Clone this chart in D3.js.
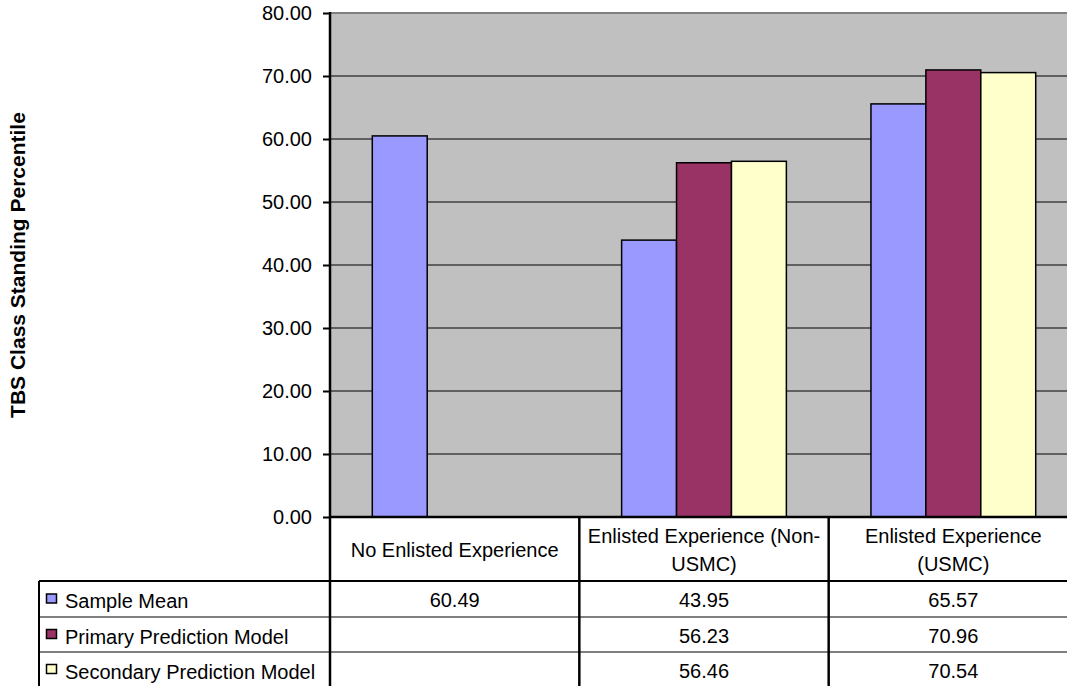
<!DOCTYPE html>
<html><head><meta charset="utf-8">
<script src="https://cdn.jsdelivr.net/npm/d3@7"></script>
<style>body{margin:0;background:#fff}svg{display:block;font-family:Arial,"Liberation Sans",sans-serif}</style>
</head><body>
<svg id="c" width="1067" height="686"></svg>
<script>
const categories = [["No Enlisted Experience"], ["Enlisted Experience (Non-", "USMC)"], ["Enlisted Experience", "(USMC)"]];
const seriesNames = ["Sample Mean", "Primary Prediction Model", "Secondary Prediction Model"];
const sampleMean = [60.49, 43.95, 65.57];
const primaryModel = [null, 56.23, 70.96];
const secondaryModel = [null, 56.46, 70.54];
const seriesColors = ["#9999FF", "#993366", "#FFFFCC"];
const yTicks = [0, 10, 20, 30, 40, 50, 60, 70, 80];
const yTitle = "TBS Class Standing Percentile";

const series = [sampleMean, primaryModel, secondaryModel];
const svg = d3.select("#c");
const L = 330, R = 1078, T = 13, B = 517;
const FS = 20;
const catIdx = categories.map((d, i) => i);
const x = d3.scaleBand().domain(catIdx).range([L, R]);
const xs = d3.scaleBand().domain(seriesNames).range([0, x.bandwidth()]).paddingInner(0).paddingOuter(0.77);
const y = d3.scaleLinear().domain([0, 80]).range([B, T]);

// plot background
svg.append("rect").attr("x", L).attr("y", T).attr("width", R - L).attr("height", B - T).attr("fill", "#C0C0C0");
// gridlines
svg.append("g").selectAll("line").data(yTicks.filter(t => t > 0 && t < 80)).join("line")
  .attr("x1", L).attr("x2", R).attr("y1", d => y(d)).attr("y2", d => y(d))
  .attr("stroke", "#000").attr("stroke-width", 1);
svg.append("line").attr("x1", L).attr("x2", R).attr("y1", T).attr("y2", T).attr("stroke", "#808080").attr("stroke-width", 2);

// bars
series.forEach((vals, si) => {
  svg.append("g").selectAll("rect").data(vals.map((v, i) => ({v, i})).filter(d => d.v != null)).join("rect")
    .attr("x", d => x(d.i) + xs(seriesNames[si]))
    .attr("width", xs.bandwidth())
    .attr("y", d => y(d.v))
    .attr("height", d => y(0) - y(d.v))
    .attr("fill", seriesColors[si]).attr("stroke", "#000").attr("stroke-width", 1.5);
});

// y axis
const yAxis = d3.axisLeft(y).tickValues(yTicks).tickFormat(d3.format(".2f")).tickSize(7).tickPadding(11);
const ga = svg.append("g").attr("transform", `translate(${L},0)`).call(yAxis);
ga.select(".domain").remove();
ga.selectAll("line").attr("stroke", "#000").attr("stroke-width", 2);
ga.selectAll("text").attr("font-size", 20).attr("fill", "#000").attr("dy", "0.34em").attr("font-family", "Arial, 'Liberation Sans', sans-serif");
svg.append("line").attr("x1", L).attr("x2", L).attr("y1", T - 1).attr("y2", 686).attr("stroke", "#000").attr("stroke-width", 2.5);

// y title
svg.append("text").attr("transform", `translate(25,${(T + B) / 2 + 0}) rotate(-90)`)
  .attr("text-anchor", "middle").attr("font-size", 21).attr("font-weight", "bold").text(yTitle);

// data table
const rowsY = [517, 581, 617, 652, 687];
const LG = 39;
// header
svg.append("line").attr("x1", L).attr("x2", R).attr("y1", B).attr("y2", B).attr("stroke", "#000").attr("stroke-width", 2.5);
categories.forEach((lines, i) => {
  const cx = x(i) + x.bandwidth() / 2;
  const t = svg.append("text").attr("text-anchor", "middle").attr("font-size", FS).attr("fill", "#000");
  const baseY = 557;
  lines.forEach((ln, k) => {
    t.append("tspan").attr("x", cx).attr("y", baseY + (k - (lines.length - 1) / 2) * 28).text(ln);
  });
});
// column dividers
catIdx.slice(1).forEach(i => {
  svg.append("line").attr("x1", x(i)).attr("x2", x(i)).attr("y1", B).attr("y2", 686).attr("stroke", "#000").attr("stroke-width", 2.5);
});
// rows
svg.append("line").attr("x1", LG).attr("x2", R).attr("y1", rowsY[1]).attr("y2", rowsY[1]).attr("stroke", "#000").attr("stroke-width", 2);
svg.append("line").attr("x1", LG).attr("x2", LG).attr("y1", rowsY[1]).attr("y2", 686).attr("stroke", "#000").attr("stroke-width", 2);
[2, 3].forEach(r => {
  svg.append("line").attr("x1", LG).attr("x2", R).attr("y1", rowsY[r]).attr("y2", rowsY[r]).attr("stroke", "#000").attr("stroke-width", 1);
});
const fmt = d3.format(".2f");
series.forEach((vals, si) => {
  const cy = (rowsY[si + 1] + rowsY[si + 2]) / 2 + 9;
  svg.append("rect").attr("x", 46.5).attr("y", cy - 14).attr("width", 10).attr("height", 9)
    .attr("fill", seriesColors[si]).attr("stroke", "#000").attr("stroke-width", 1.5);
  svg.append("text").attr("x", 65).attr("y", cy).attr("font-size", FS).attr("fill", "#000").text(seriesNames[si]);
  vals.forEach((v, i) => {
    if (v == null) return;
    svg.append("text").attr("x", x(i) + x.bandwidth() / 2).attr("y", cy - 1).attr("text-anchor", "middle")
      .attr("font-size", FS).attr("fill", "#000").text(fmt(v));
  });
});
</script>
</body></html>
